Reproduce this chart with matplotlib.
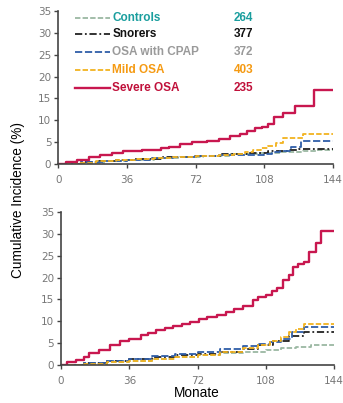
import matplotlib.pyplot as plt

# group names, sample sizes and colours
groups = ["Controls", "Snorers", "OSA with CPAP", "Mild OSA", "Severe OSA"]
counts = [264, 377, 372, 403, 235]
line_colors = ["#9bb8a2", "#222222", "#2f5ea8", "#f2b320", "#c8174f"]
text_colors = ["#1a9e9e", "#111111", "#9a9a9a", "#f59a12", "#c0103a"]
styles = [(0, (3, 1.2)), (0, (4, 1.5, 1, 1.5)), (0, (4, 1.5)), (0, (3, 1.2)), "-"]

# upper panel: months / cumulative incidence (%)
top_t = {
    "Controls": [0, 12, 24, 36, 50, 64, 76, 90, 104, 116, 128, 136, 144],
    "Snorers": [0, 10, 20, 30, 40, 55, 70, 85, 100, 110, 120, 126, 144],
    "OSA with CPAP": [0, 12, 24, 36, 48, 60, 72, 84, 96, 108, 112, 116, 122, 127, 144],
    "Mild OSA": [0, 10, 20, 30, 40, 50, 60, 72, 84, 92, 98, 102, 106, 110, 114, 118, 124, 128, 144],
    "Severe OSA": [0, 4, 10, 16, 22, 28, 34, 44, 54, 58, 64, 70, 78, 84, 90, 95, 99, 103,
                   107, 110, 113, 118, 124, 134, 144],
}
top_v = {
    "Controls": [0, 0.3, 0.7, 1.0, 1.3, 1.6, 1.9, 2.2, 2.5, 2.8, 3.0, 3.2, 3.2],
    "Snorers": [0, 0.4, 0.8, 1.0, 1.2, 1.5, 1.9, 2.3, 2.6, 2.9, 3.3, 3.5, 3.5],
    "OSA with CPAP": [0, 0.4, 0.7, 1.0, 1.3, 1.6, 1.9, 2.1, 2.1, 2.4, 2.7, 3.0, 4.0, 5.3, 5.3],
    "Mild OSA": [0, 0.3, 0.6, 0.9, 1.1, 1.3, 1.6, 1.9, 2.1, 2.4, 2.8, 3.2, 3.6, 4.2, 4.8,
                 6.0, 6.0, 6.9, 6.9],
    "Severe OSA": [0, 0.5, 1.0, 1.5, 2.0, 2.5, 3.0, 3.3, 3.6, 4.0, 4.5, 5.0, 5.3, 5.7, 6.3,
                   6.9, 7.6, 8.2, 8.5, 9.2, 10.7, 11.7, 13.3, 17.0, 17.0],
}

# lower panel
bot_t = {
    "Controls": [0, 12, 24, 36, 48, 60, 72, 84, 96, 108, 116, 124, 132, 144],
    "Snorers": [0, 12, 24, 36, 48, 60, 72, 84, 96, 104, 112, 120, 128, 144],
    "OSA with CPAP": [0, 12, 24, 36, 48, 60, 72, 84, 96, 104, 110, 116, 122, 128, 144],
    "Mild OSA": [0, 12, 24, 36, 48, 60, 72, 84, 96, 104, 110, 116, 120, 124, 128, 144],
    "Severe OSA": [0, 3, 8, 12, 15, 20, 26, 31, 36, 42, 46, 50, 55, 59, 64, 68, 73, 77, 82,
                   87, 91, 96, 101, 104, 108, 111, 114, 117, 120, 122.5, 125, 128, 131,
                   134.5, 137, 144],
}
bot_v = {
    "Controls": [0, 0.3, 0.6, 1.0, 1.5, 1.9, 2.3, 2.7, 3.1, 3.4, 3.8, 4.2, 4.6, 4.6],
    "Snorers": [0, 0.5, 1.0, 1.3, 1.8, 2.2, 2.5, 2.9, 3.7, 4.5, 5.5, 6.6, 7.5, 7.5],
    "OSA with CPAP": [0, 0.4, 0.9, 1.4, 2.1, 2.6, 3.1, 3.7, 4.3, 4.8, 5.2, 6.0, 7.5, 8.8, 8.8],
    "Mild OSA": [0, 0.3, 0.6, 1.0, 1.4, 1.8, 2.3, 3.0, 3.8, 4.6, 5.4, 6.5, 7.5, 8.2, 9.5, 9.5],
    "Severe OSA": [0, 0.8, 1.1, 1.9, 2.7, 3.5, 4.6, 5.5, 6.0, 6.8, 7.3, 8.0, 8.5, 8.9, 9.4,
                   9.9, 10.5, 10.9, 11.5, 12.2, 12.9, 13.5, 14.8, 15.5, 16.0, 17.0, 17.7,
                   19.4, 20.5, 22.4, 23.2, 23.6, 25.9, 27.9, 30.7, 30.7],
}

x_ticks = [0, 36, 72, 108, 144]
y_ticks = [0, 5, 10, 15, 20, 25, 30, 35]

fig = plt.figure(figsize=(3.43, 4.03), dpi=100)
ax1 = fig.add_axes([0.170, 0.593, 0.801, 0.380])
ax2 = fig.add_axes([0.178, 0.094, 0.796, 0.380])


def draw_panel(ax, tt, vv):
    for g, c, ls in zip(groups, line_colors, styles):
        lw = 1.7 if g == "Severe OSA" else 1.3
        ax.step(tt[g], vv[g], where="post", color=c, linestyle=ls, lw=lw)
    ax.set_xlim(0, 144)
    ax.set_ylim(0, 35)
    ax.set_xticks(x_ticks)
    ax.set_yticks(y_ticks)
    for s in ["top", "right"]:
        ax.spines[s].set_visible(False)
    for s in ["left", "bottom"]:
        ax.spines[s].set_color("#444444")
        ax.spines[s].set_linewidth(1.2)
    ax.tick_params(direction="out", length=3, width=1, color="#444444",
                   labelsize=7.5, labelcolor="#777777", pad=2)
    ax.tick_params(axis="x", pad=5)


draw_panel(ax1, top_t, top_v)
draw_panel(ax2, bot_t, bot_v)

# legend drawn by hand so the counts line up in a column
rows = [0.954, 0.850, 0.732, 0.614, 0.497]
for g, n, lc, tc, ls, yy in zip(groups, counts, line_colors, text_colors, styles, rows):
    ax1.plot([0.062, 0.189], [yy, yy], transform=ax1.transAxes, color=lc,
             linestyle=ls, lw=1.7 if g == "Severe OSA" else 1.3)
    ax1.text(0.197, yy, g, transform=ax1.transAxes, color=tc, fontsize=8.5,
             fontweight="bold", family="Liberation Sans", va="center", ha="left")
    ax1.text(0.709, yy, str(n), transform=ax1.transAxes, color=tc, fontsize=8.5,
             fontweight="bold", family="Liberation Sans", va="center", ha="right")

fig.text(0.052, 1 - 200 / 403, "Cumulative Incidence (%)", rotation=90,
         ha="center", va="center", fontsize=9.8, family="Liberation Sans")
fig.text(197 / 343, 1 - 393 / 403, "Monate", ha="center", va="center",
         fontsize=9.8, family="Liberation Sans")

plt.savefig("out.png", dpi=100)
